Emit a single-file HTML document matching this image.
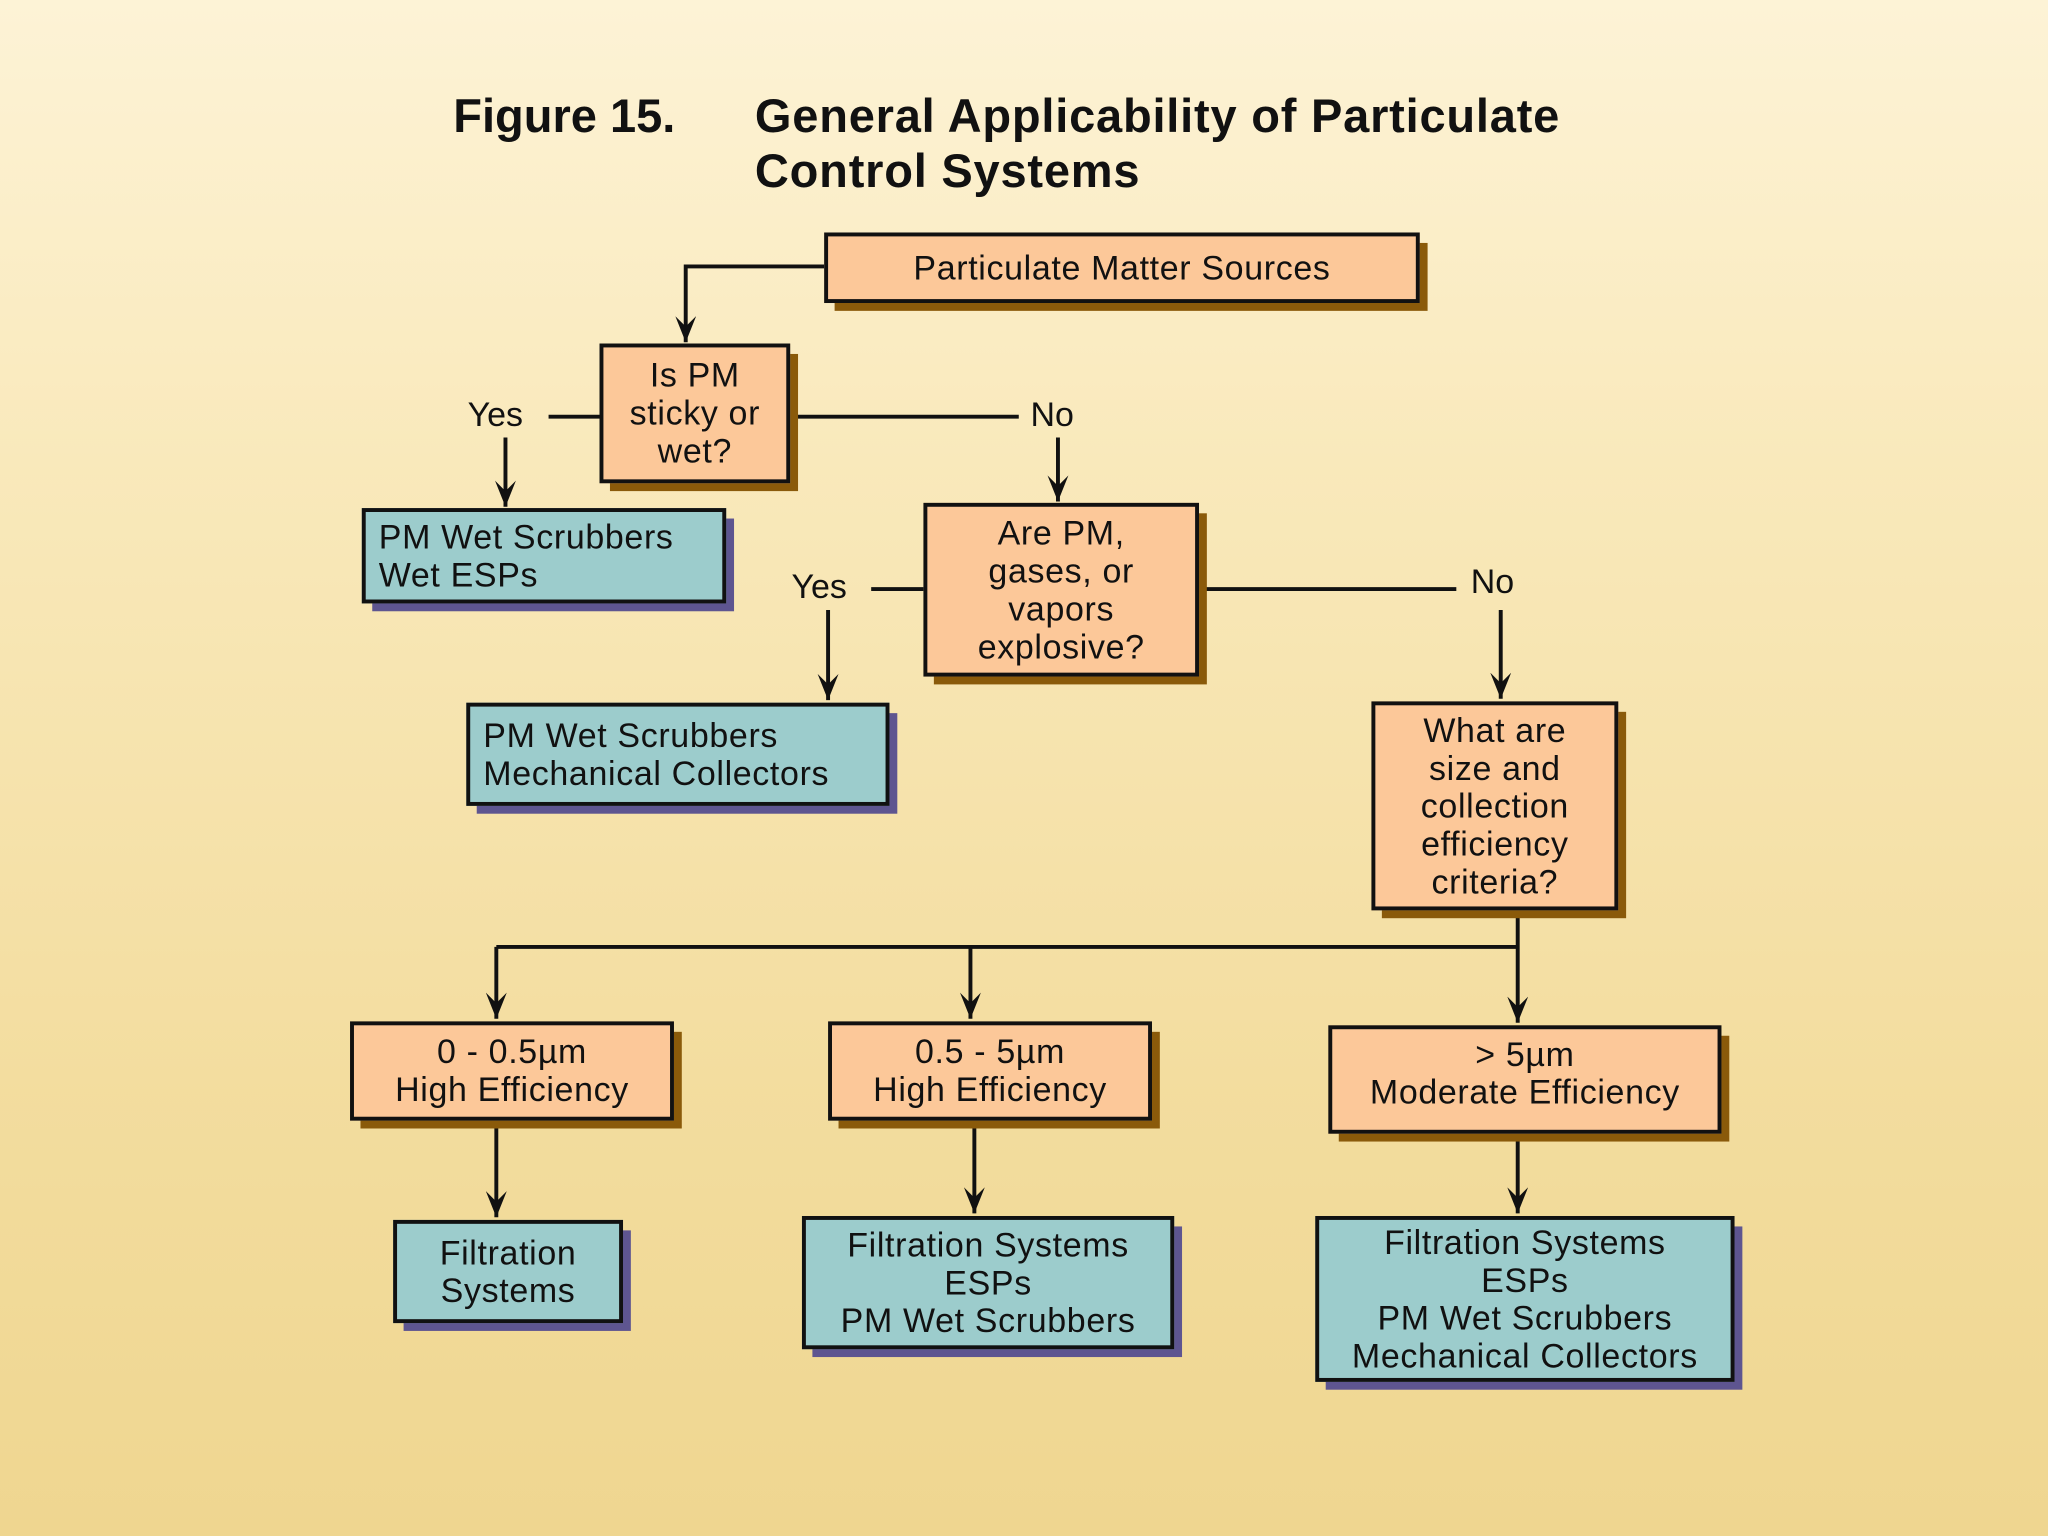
<!DOCTYPE html>
<html><head><meta charset="utf-8"><style>
html,body{margin:0;padding:0;width:2048px;height:1536px;overflow:hidden}
body{background:linear-gradient(180deg,#fdf3d6 0%,#f9e9bb 30%,#f3dd9f 70%,#efd690 100%)}
#w{position:absolute;left:0;top:0;width:1568px;height:1176px;transform:scale(1.30612);transform-origin:0 0;font-family:"Liberation Sans",sans-serif}
.b{position:absolute;box-sizing:border-box;border:3px solid #111;display:flex;flex-direction:column;justify-content:center;align-items:center;text-align:center;font-size:26px;line-height:29px;color:#111;letter-spacing:0.5px}
.o{background:#fcc899;box-shadow:7px 7px 0 -1px #8a5a0a}
.t{background:#9ccccc;box-shadow:7px 7px 0 -1px #5e5590}
.l{align-items:flex-start;text-align:left;padding-left:10px}
.lab{position:absolute;font-size:26px;color:#111}
h1{position:absolute;margin:0;font-size:36px;font-weight:bold;color:#111;line-height:42px}
</style></head><body><div id="w">
<h1 style="left:347px;top:68px">Figure 15.</h1>
<h1 style="left:578px;top:68px;letter-spacing:0.6px">General Applicability of Particulate<br>Control Systems</h1>
<svg width="1568" height="1176" style="position:absolute;left:0;top:0">
<defs><marker id="a" markerWidth="22" markerHeight="16" refX="20" refY="8" orient="auto" markerUnits="userSpaceOnUse"><path d="M0,0 L20,8 L0,16 L8,8 Z" fill="#111"/></marker></defs>
<g stroke="#111" stroke-width="3" fill="none">
<polyline points="631,204 525,204 525,262" marker-end="url(#a)"/>
<line x1="420" y1="319" x2="459" y2="319"/>
<line x1="387" y1="335" x2="387" y2="388" marker-end="url(#a)"/>
<line x1="605" y1="319" x2="780" y2="319"/>
<line x1="810" y1="335" x2="810" y2="384" marker-end="url(#a)"/>
<line x1="667" y1="451" x2="707" y2="451"/>
<line x1="634" y1="467" x2="634" y2="536" marker-end="url(#a)"/>
<line x1="918" y1="451" x2="1115" y2="451"/>
<line x1="1149" y1="467" x2="1149" y2="535" marker-end="url(#a)"/>
<line x1="1162" y1="697" x2="1162" y2="783" marker-end="url(#a)"/>
<line x1="380" y1="725" x2="1162" y2="725"/>
<line x1="380" y1="725" x2="380" y2="780" marker-end="url(#a)"/>
<line x1="743" y1="725" x2="743" y2="780" marker-end="url(#a)"/>
<line x1="380" y1="858" x2="380" y2="932" marker-end="url(#a)"/>
<line x1="746" y1="858" x2="746" y2="929" marker-end="url(#a)"/>
<line x1="1162" y1="868" x2="1162" y2="929" marker-end="url(#a)"/>
</g></svg>
<div class="lab" style="left:358px;top:302px">Yes</div>
<div class="lab" style="left:789px;top:302px">No</div>
<div class="lab" style="left:606px;top:434px">Yes</div>
<div class="lab" style="left:1126px;top:430px">No</div>
<div class="b o" style="left:631px;top:178px;width:456px;height:54px">Particulate Matter Sources</div>
<div class="b o" style="left:459px;top:263px;width:146px;height:107px">Is PM<br>sticky or<br>wet?</div>
<div class="b t l" style="left:277px;top:389px;width:279px;height:73px">PM Wet Scrubbers<br>Wet ESPs</div>
<div class="b o" style="left:707px;top:385px;width:211px;height:133px">Are PM,<br>gases, or<br>vapors<br>explosive?</div>
<div class="b t l" style="left:357px;top:538px;width:324px;height:79px">PM Wet Scrubbers<br>Mechanical Collectors</div>
<div class="b o" style="left:1050px;top:537px;width:189px;height:160px">What are<br>size and<br>collection<br>efficiency<br>criteria?</div>
<div class="b o" style="left:268px;top:782px;width:248px;height:76px">0 - 0.5µm<br>High Efficiency</div>
<div class="b o" style="left:634px;top:782px;width:248px;height:76px">0.5 - 5µm<br>High Efficiency</div>
<div class="b o" style="left:1017px;top:785px;width:301px;height:83px;justify-content:flex-start;padding-top:5px">&gt; 5µm<br>Moderate Efficiency</div>
<div class="b t" style="left:301px;top:934px;width:176px;height:79px">Filtration<br>Systems</div>
<div class="b t" style="left:614px;top:931px;width:285px;height:102px">Filtration Systems<br>ESPs<br>PM Wet Scrubbers</div>
<div class="b t" style="left:1007px;top:931px;width:321px;height:127px">Filtration Systems<br>ESPs<br>PM Wet Scrubbers<br>Mechanical Collectors</div>
</div></body></html>
